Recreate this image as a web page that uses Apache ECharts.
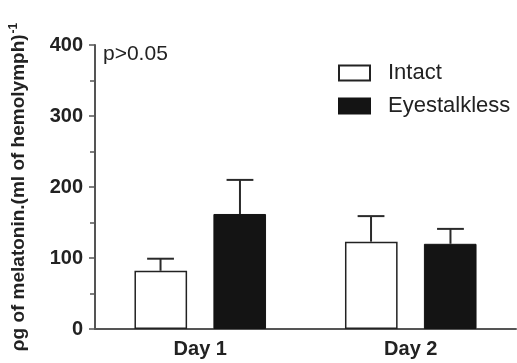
<!DOCTYPE html>
<html><head><meta charset="utf-8">
<script src="https://cdn.jsdelivr.net/npm/echarts@6/dist/echarts.min.js"></script>
<style>html,body{margin:0;padding:0;background:#fff}#c{width:517px;height:363px}</style>
</head><body><div id="c"></div>
<script>
var categories = ['Day 1', 'Day 2'];
var intact = [82, 123];
var intactErr = [99, 159];
var eyestalkless = [162, 120];
var eyestalklessErr = [210, 141];
var yTicks = [0, 100, 200, 300, 400];

var chart = echarts.init(document.getElementById('c'));
function errSeries(vals, tops, side) {
  return {
    type: 'custom',
    z: 5,
    data: vals.map(function (v, i) { return [i, v, tops[i]]; }),
    renderItem: function (params, api) {
      var band = api.size([1, 0])[0];
      var off = side * band * 40 / 212;
      var p0 = api.coord([api.value(0), api.value(1)]);
      var p1 = api.coord([api.value(0), api.value(2)]);
      var x = p0[0] + off;
      var half = band * 13.5 / 212;
      var st = { stroke: '#2a2a2a', lineWidth: 2 };
      return { type: 'group', children: [
        { type: 'line', shape: { x1: x, y1: p0[1], x2: x, y2: p1[1] }, style: st },
        { type: 'line', shape: { x1: x - half, y1: p1[1], x2: x + half, y2: p1[1] }, style: st }
      ] };
    },
    silent: true
  };
}
chart.setOption({
  animation: false,
  textStyle: { fontFamily: 'Liberation Sans, Arial, sans-serif' },
  grid: { left: 92, right: 1, top: 45, bottom: 34, containLabel: false },
  legend: {
    orient: 'vertical', left: 338, top: 62, itemWidth: 31, itemHeight: 15, itemGap: 11, padding: 0,
    icon: 'rect',
    textStyle: { fontSize: 22, color: '#222', padding: [0, 0, 0, 13] },
    data: ['Intact', 'Eyestalkless']
  },
  xAxis: {
    type: 'category', data: categories,
    axisLine: { lineStyle: { color: '#555', width: 2 } },
    axisTick: { alignWithLabel: true, length: 5, lineStyle: { color: '#555', width: 1.5 } },
    axisLabel: { fontSize: 20, fontWeight: 'bold', color: '#222', margin: 10 }
  },
  yAxis: {
    type: 'value', min: 0, max: 400, interval: 100,
    name: '{a|ρg of melatonin.(ml of hemolymph)}{s|-1}',
    nameLocation: 'middle', nameRotate: 90, nameGap: 65,
    nameTextStyle: {
      rich: {
        a: { fontSize: 19, fontWeight: 'bold', color: '#222' },
        s: { fontSize: 12, fontWeight: 'bold', color: '#222', verticalAlign: 'top', padding: [0, 0, 10, 1] }
      }
    },
    axisLine: { show: true, lineStyle: { color: '#555', width: 2 } },
    axisTick: { show: true, length: 6, lineStyle: { color: '#555', width: 1.5 } },
    minorTick: { show: true, splitNumber: 2, length: 5, lineStyle: { color: '#555', width: 1.5 } },
    splitLine: { show: false },
    axisLabel: { fontSize: 20, fontWeight: 'bold', color: '#222', margin: 12 }
  },
  graphic: [{ type: 'text', left: 103, top: 44, style: { text: 'p>0.05', fontSize: 21, fill: '#222', fontFamily: 'Liberation Sans, Arial, sans-serif' } }],
  series: [
    { name: 'Intact', type: 'bar', data: intact, barWidth: '25%', barGap: '50%',
      itemStyle: { color: '#fff', borderColor: '#222', borderWidth: 1.5 } },
    { name: 'Eyestalkless', type: 'bar', data: eyestalkless, barWidth: '25%', barGap: '50%',
      itemStyle: { color: '#141414', borderColor: '#141414', borderWidth: 1 } },
    errSeries(intact, intactErr, -1),
    errSeries(eyestalkless, eyestalklessErr, 1)
  ]
});
</script></body></html>
